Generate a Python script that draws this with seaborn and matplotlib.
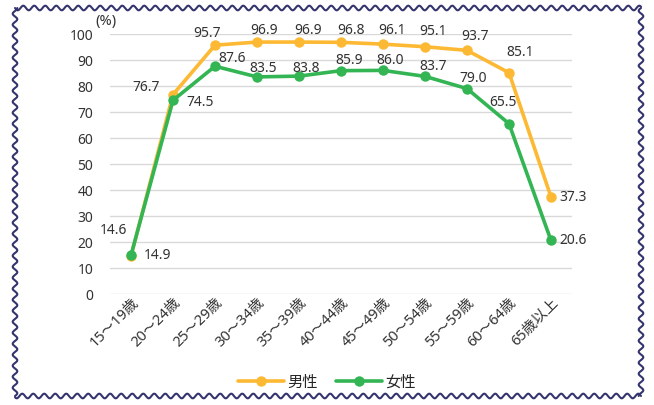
import numpy as np
import pandas as pd
import matplotlib.pyplot as plt
import seaborn as sns
from matplotlib.lines import Line2D

# data
age_groups = ['15～19歳', '20～24歳', '25～29歳', '30～34歳', '35～39歳', '40～44歳',
              '45～49歳', '50～54歳', '55～59歳', '60～64歳', '65歳以上']
male = [14.6, 76.7, 95.7, 96.9, 96.9, 96.8, 96.1, 95.1, 93.7, 85.1, 37.3]
female = [14.9, 74.5, 87.6, 83.5, 83.8, 85.9, 86.0, 83.7, 79.0, 65.5, 20.6]

# label offsets in pixels (dx, dy), the last label of each series sits to the right
male_off = [(-18, 26), (-27, 7), (-8, 12), (7, 12), (9, 12), (10, 12),
            (9, 14), (8, 15), (8, 14), (11, 20), None]
female_off = [(27, 0), (27, -2), (17, 8), (6, 8), (7, 8), (8, 10),
              (7, 10), (8, 10), (6, 10), (-6, 21), None]

MALE_C = '#FDB933'
FEMALE_C = '#33B554'
TXT = '#333333'
FS = 10

sns.set_style('white')
plt.rcParams['font.family'] = ['Noto Sans', 'Noto Sans CJK JP', 'DejaVu Sans']

df = pd.DataFrame({
    'age': age_groups * 2,
    'rate': male + female,
    'sex': ['男性'] * len(age_groups) + ['女性'] * len(age_groups),
})

fig = plt.figure(figsize=(6.54, 4.05), dpi=100)
W, H = 654, 405
ax = fig.add_axes([110 / W, 1 - 294 / H, 462 / W, 260 / H])

sns.lineplot(data=df, x='age', y='rate', hue='sex', palette=[MALE_C, FEMALE_C],
             marker='o', markersize=7.5, markeredgewidth=0, linewidth=2.6,
             ax=ax, legend=False, sort=False)

ax.set_xlim(-0.5, len(age_groups) - 0.5)
ax.set_ylim(0, 100)
ax.set_yticks(range(0, 101, 10))
ax.yaxis.grid(True, color='#d9d9d9', linewidth=1)
ax.xaxis.grid(False)
for s in ax.spines.values():
    s.set_visible(False)
ax.set_xlabel('')
ax.set_ylabel('')
ax.tick_params(axis='y', labelsize=FS, colors=TXT, length=0, pad=12)
ax.tick_params(axis='x', labelsize=10.5, colors=TXT, length=0, pad=1)
plt.setp(ax.get_xticklabels(), rotation=45, ha='right', rotation_mode='anchor')
ax.text(95 / W, 1 - 22 / H, '(%)', transform=fig.transFigure, fontsize=10.5,
        color=TXT, ha='left', va='center')

for vals, offs in ((male, male_off), (female, female_off)):
    for i, (v, off) in enumerate(zip(vals, offs)):
        if off is None:
            ax.annotate(f'{v:.1f}', (i, v), xytext=(8, 0), textcoords='offset pixels',
                        ha='left', va='center', fontsize=FS, color=TXT)
        else:
            ax.annotate(f'{v:.1f}', (i, v), xytext=off, textcoords='offset pixels',
                        ha='center', va='center', fontsize=FS, color=TXT)

handles = [Line2D([], [], color=MALE_C, marker='o', markersize=7.5, markeredgewidth=0, linewidth=2.6),
           Line2D([], [], color=FEMALE_C, marker='o', markersize=7.5, markeredgewidth=0, linewidth=2.6)]
fig.legend(handles, ['男性', '女性'], loc='center', bbox_to_anchor=(327 / W, 1 - 383 / H),
           ncol=2, frameon=False, fontsize=11, handlelength=3.0, columnspacing=1.2,
           handletextpad=0.2)

# wavy border
def wave(p0, p1, period=11.0, amp=2.3):
    p0, p1 = np.array(p0, float), np.array(p1, float)
    length = np.linalg.norm(p1 - p0)
    t = np.linspace(0, length, int(length * 2))
    d = (p1 - p0) / length
    n = np.array([-d[1], d[0]])
    pts = p0 + np.outer(t, d) + np.outer(amp * np.sin(2 * np.pi * t / period), n)
    return pts

left, right, top, bottom = 15, 641, 8, 396
for a, b in [((left, top), (right, top)), ((right, top), (right, bottom)),
             ((right, bottom), (left, bottom)), ((left, bottom), (left, top))]:
    pts = wave(a, b)
    fig.add_artist(Line2D(pts[:, 0] / W, 1 - pts[:, 1] / H, color='#34346e',
                          linewidth=1.5, transform=fig.transFigure))

fig.savefig('out.png', dpi=100)
